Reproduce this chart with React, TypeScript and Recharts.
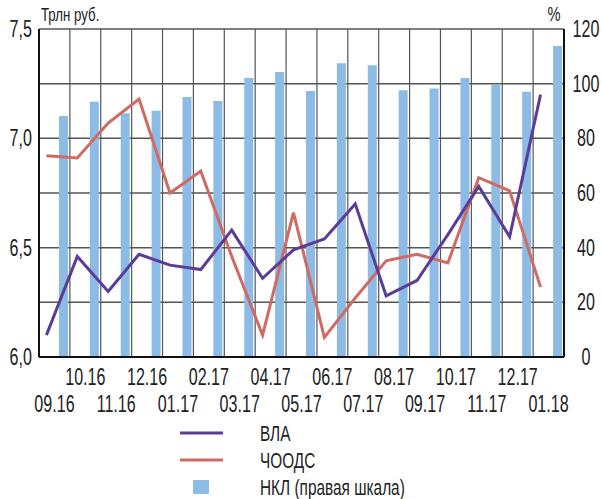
import { Bar, CartesianGrid, ComposedChart, Label, Legend, Line, XAxis, YAxis } from 'recharts'

const months = [
  '09.16', '10.16', '11.16', '12.16', '01.17', '02.17', '03.17', '04.17', '05.17',
  '06.17', '07.17', '08.17', '09.17', '10.17', '11.17', '12.17', '01.18',
]
// ВЛА, трлн руб.
const vla = [6.1, 6.46, 6.3, 6.47, 6.42, 6.4, 6.58, 6.36, 6.49, 6.54, 6.7, 6.28, 6.35, 6.56, 6.78, 6.55, 7.2]
// ЧООДС, трлн руб.
const choods = [6.92, 6.91, 7.07, 7.18, 6.75, 6.85, 6.46, 6.1, 6.66, 6.09, 6.27, 6.44, 6.47, 6.43, 6.82, 6.76, 6.32]
// НКЛ, % (правая шкала)
const nkl = [88.2, 93.4, 89.2, 90.1, 95.1, 93.7, 102.1, 104.3, 97.3, 107.5, 106.7, 97.6, 98.2, 102.1, 99.5, 97.0, 113.8]

const leftTicks = [6, 6.25, 6.5, 6.75, 7, 7.25, 7.5]
const rightTicks = [0, 20, 40, 60, 80, 100, 120]

// where inside each month band the line point and the bar sit
const LINE_POS = 0.24
const BAR_POS = 0.79

const data = months.map((m, i) => ({
  month: m,
  xl: i + LINE_POS,
  xb: i + BAR_POS,
  vla: vla[i],
  choods: choods[i],
  nkl: nkl[i],
}))

const bandEdges = months.map((_, i) => i).concat(months.length)
const labelTicks = months.map((_, i) => i + 0.5)

const FONT = "'Liberation Sans', Arial, sans-serif"
const SQUEEZE = 0.7
const PURPLE = '#5b3d98'
const RED = '#cf6b62'
const BLUE = '#8cbbe6'

// condensed text: the reference uses a narrow grotesque
const CText = ({ x, y, size, anchor = 'start', children }: any) => (
  <text
    transform={`translate(${x},${y}) scale(${SQUEEZE},1)`}
    textAnchor={anchor}
    fontFamily={FONT}
    fontSize={size}
    fill="#222"
  >
    {children}
  </text>
)

const fmtLeft = (v: number) => (Math.abs(v * 2 - Math.round(v * 2)) < 1e-6 ? v.toFixed(1).replace('.', ',') : '')

const MonthTick = (props: any) => {
  const { x, y, payload, index } = props
  const label = months[Math.round(payload.value - 0.5)]
  const upper = index % 2 === 1
  return (
    <CText x={x} y={y + (upper ? 28 : 55)} size={23} anchor="middle">
      {label}
    </CText>
  )
}

const LeftTick = (props: any) => {
  const { x, y, payload } = props
  const t = fmtLeft(payload.value)
  if (!t) return null
  return (
    <CText x={x - 7} y={y + 8} size={23} anchor="end">
      {t}
    </CText>
  )
}

const RightTick = (props: any) => {
  const { x, y, payload } = props
  return (
    <CText x={x + 22} y={y + 8} size={23} anchor="middle">
      {payload.value}
    </CText>
  )
}

const LEGEND = [
  { key: 'vla', name: 'ВЛА', color: PURPLE, kind: 'line' },
  { key: 'choods', name: 'ЧООДС', color: RED, kind: 'line' },
  { key: 'nkl', name: 'НКЛ (правая шкала)', color: BLUE, kind: 'square' },
]

const LegendBox = () => (
  <svg width={602} height={79} style={{ display: 'block' }}>
    {LEGEND.map((it, i) => {
      const cy = 13 + i * 27
      return (
        <g key={it.key}>
          {it.kind === 'line' ? (
            <line x1={180} x2={223} y1={cy} y2={cy} stroke={it.color} strokeWidth={3} />
          ) : (
            <rect x={193} y={cy - 7} width={16} height={14} fill={it.color} />
          )}
          <CText x={260} y={cy + 8} size={22}>
            {it.name}
          </CText>
        </g>
      )
    })}
  </svg>
)

export default function App() {
  return (
    <div style={{ position: 'absolute', left: 0, top: 0, width: 602, height: 499, background: '#fff' }}>
      <ComposedChart width={602} height={499} data={data} margin={{ top: 29, right: 0, bottom: 82, left: 0 }}>
        <XAxis
          xAxisId="line"
          type="number"
          dataKey="xl"
          domain={[0, months.length]}
          ticks={labelTicks}
          interval={0}
          tick={<MonthTick />}
          tickLine={false}
          tickSize={0}
          tickMargin={0}
          axisLine={{ stroke: '#111', strokeWidth: 2 }}
          height={60}
        />
        <XAxis xAxisId="grid" type="number" dataKey="xl" domain={[0, months.length]} ticks={bandEdges} height={0} hide />
        <XAxis xAxisId="bar" type="number" dataKey="xb" domain={[0, months.length]} height={0} hide />
        <YAxis
          yAxisId="left"
          domain={[6, 7.5]}
          ticks={leftTicks}
          interval={0}
          tick={<LeftTick />}
          tickLine={false}
          tickSize={0}
          tickMargin={0}
          axisLine={{ stroke: '#111', strokeWidth: 2 }}
          width={39}
        >
          <Label
            content={(p: any) => (
              <CText x={p.viewBox.x + p.viewBox.width + 2} y={p.viewBox.y - 8} size={19}>
                Трлн руб.
              </CText>
            )}
          />
        </YAxis>
        <YAxis
          yAxisId="right"
          orientation="right"
          domain={[0, 120]}
          ticks={rightTicks}
          interval={0}
          tick={<RightTick />}
          tickLine={false}
          tickSize={0}
          tickMargin={0}
          axisLine={{ stroke: '#111', strokeWidth: 2 }}
          width={38}
        >
          <Label
            content={(p: any) => (
              <CText x={p.viewBox.x - 10} y={p.viewBox.y - 8} size={21} anchor="middle">
                %
              </CText>
            )}
          />
        </YAxis>
        <CartesianGrid yAxisId="left" xAxisId="grid" vertical={false} stroke="#555" strokeWidth={1.5} />
        <CartesianGrid yAxisId="left" xAxisId="grid" horizontal={false} stroke="#555" strokeWidth={1.2} />
        <Bar
          xAxisId="bar"
          yAxisId="right"
          dataKey="nkl"
          name="НКЛ (правая шкала)"
          fill={BLUE}
          barSize={9}
          isAnimationActive={false}
        />
        <Line
          xAxisId="line"
          yAxisId="left"
          dataKey="choods"
          name="ЧООДС"
          stroke={RED}
          strokeWidth={3}
          dot={false}
          type="linear"
          isAnimationActive={false}
        />
        <Line
          xAxisId="line"
          yAxisId="left"
          dataKey="vla"
          name="ВЛА"
          stroke={PURPLE}
          strokeWidth={3}
          dot={false}
          type="linear"
          isAnimationActive={false}
        />
        <Legend
          layout="horizontal"
          verticalAlign="middle"
          align="center"
          wrapperStyle={{ top: 420, left: 0, width: 602, height: 79 }}
          content={<LegendBox />}
        />
      </ComposedChart>
    </div>
  )
}
